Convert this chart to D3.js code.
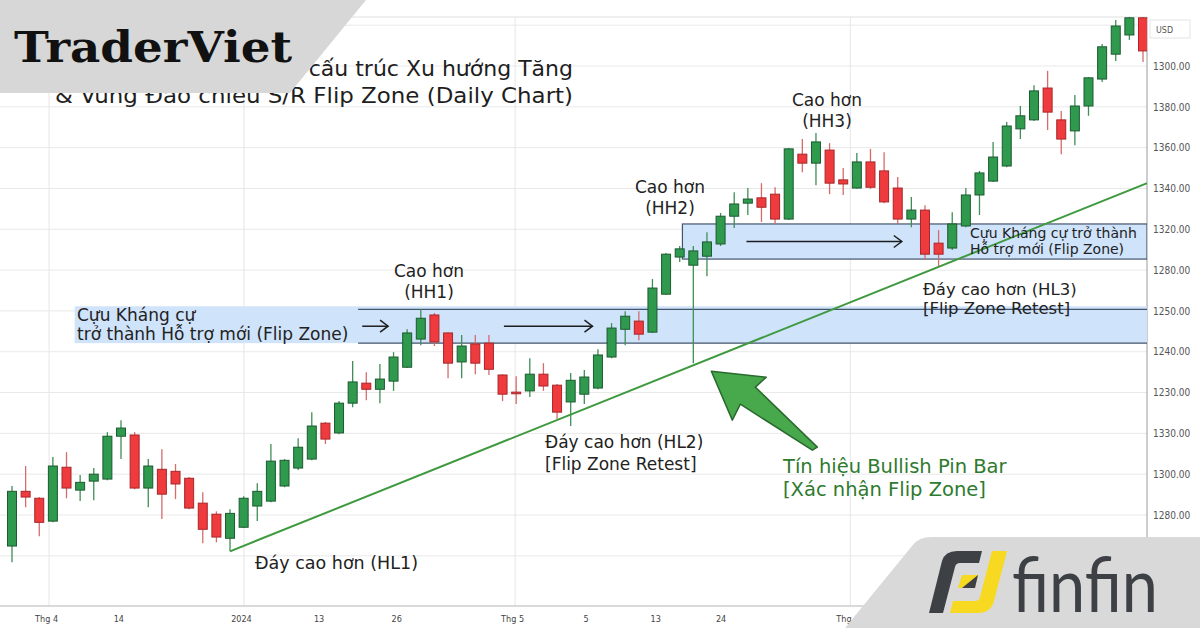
<!DOCTYPE html>
<html>
<head>
<meta charset="utf-8">
<script src="https://cdn.jsdelivr.net/npm/d3@7"></script>
<style>
  body { margin: 0; background: #fff; }
  svg { display: block; }
</style>
</head>
<body>
<svg id="chart" width="1200" height="628"></svg>
<script>
// ---- daily candles ----
const opens = [1282.4,1295.8,1294.1,1288.5,1301.7,1296.1,1298.3,1298.8,1309.3,1309.6,
  1296.6,1301.2,1300.7,1299.0,1292.9,1290.2,1284.3,1287.0,1292.2,1293.4,
  1297.1,1301.5,1303.7,1312.5,1310.1,1317.4,1322.3,1320.8,1322.8,1326.2,
  1333.1,1339.0,1334.6,1327.5,1331.9,1332.1,1324.3,1320.1,1320.4,1324.5,
  1321.8,1317.7,1319.6,1321.1,1328.7,1335.5,1337.5,1334.8,1344.1,1353.2,
  1351.2,1353.4,1356.4,1363.2,1366.4,1367.7,1368.6,1362.5,1378.4,1376.2,
  1379.4,1372.1,1370.1,1376.5,1374.3,1370.1,1362.5,1364.7,1356.6,1355.4,
  1360.8,1368.4,1371.8,1375.5,1384.6,1386.8,1394.6,1386.8,1384.1,1390.2,
  1396.8,1402.9,1407.6,1411.8];
const highs = [1297.1,1302.0,1294.4,1304.2,1305.4,1299.8,1301.5,1310.3,1313.2,1310.3,
  1303.7,1306.1,1302.5,1299.3,1295.6,1290.9,1291.4,1294.6,1297.8,1307.4,
  1303.7,1308.8,1315.2,1312.8,1317.9,1327.7,1325.0,1327.0,1329.9,1335.5,
  1340.4,1339.5,1334.8,1334.1,1334.1,1334.1,1324.5,1324.0,1328.4,1327.2,
  1322.1,1324.8,1325.5,1330.6,1337.0,1339.9,1339.9,1347.8,1354.2,1355.9,
  1355.9,1359.3,1364.0,1369.1,1370.1,1371.3,1370.3,1379.9,1382.1,1383.6,
  1381.1,1375.0,1378.7,1379.7,1378.9,1372.8,1367.9,1365.9,1359.8,1364.2,
  1370.1,1374.3,1381.4,1386.3,1390.2,1395.3,1398.8,1389.0,1392.9,1397.3,
  1405.4,1411.3,1412.8,1412.5];
const lows = [1278.4,1291.9,1284.8,1288.2,1294.1,1293.4,1293.6,1298.5,1303.7,1296.3,
  1291.9,1289.0,1293.9,1291.4,1283.1,1283.3,1281.1,1286.8,1288.5,1293.1,
  1296.8,1301.0,1303.4,1307.4,1309.8,1316.4,1318.1,1317.4,1320.4,1326.0,
  1331.6,1331.4,1323.5,1323.5,1324.5,1324.3,1317.9,1317.2,1318.9,1320.4,
  1313.5,1311.8,1317.2,1320.8,1328.4,1331.6,1332.8,1334.6,1343.9,1352.0,
  1327.2,1348.5,1355.9,1360.3,1363.5,1361.8,1361.3,1362.3,1374.0,1370.8,
  1368.6,1368.4,1369.9,1369.9,1366.4,1361.3,1360.5,1352.5,1351.0,1354.9,
  1360.5,1363.5,1371.6,1375.2,1382.1,1386.5,1384.3,1378.4,1380.6,1387.8,
  1396.1,1401.2,1406.4,1401.0];
const closes = [1295.8,1294.4,1288.2,1302.0,1296.6,1298.0,1300.0,1309.3,1311.3,1296.6,
  1302.0,1295.1,1297.6,1291.7,1286.5,1284.6,1290.4,1294.1,1295.8,1303.2,
  1303.4,1306.6,1311.8,1308.6,1317.4,1322.6,1320.8,1323.3,1328.7,1334.6,
  1338.2,1332.4,1327.2,1331.4,1327.2,1325.7,1319.6,1319.7,1324.5,1321.6,
  1315.2,1323.0,1323.8,1329.2,1335.8,1338.7,1334.3,1345.6,1353.9,1355.2,
  1354.7,1356.9,1363.2,1366.2,1367.4,1365.4,1362.5,1379.7,1376.2,1381.4,
  1371.3,1371.1,1376.5,1370.3,1366.7,1362.5,1364.7,1353.9,1353.9,1361.3,
  1368.4,1373.8,1377.7,1385.3,1387.8,1393.9,1388.7,1382.1,1390.2,1397.1,
  1404.7,1409.8,1411.8,1403.7];

// axis labels (as printed on the picture)
const yTickValues = [1400,1390,1380,1370,1360,1350,1340,1330,1320,1310,1300,1290];
const yTickLabels = ["1300.00","1380.00","1360.00","1340.00","1320.00","1280.00",
  "1250.00","1240.00","1230.00","1330.00","1300.00","1280.00"];
const xTickPositions = [2.5, 7.8, 16.8, 22.5, 28.2, 36.7, 42.1, 47.2, 52.0, 61.3];
const xTickLabels = ["Thg 4","14","2024","13","26","Thg 5","5","13","24","Thg 6"];
const xMajor = ["Thg 4","2024","Thg 5","Thg 6"];

// flip zones (price band + first candle index)
const zoneLow = [1332.1, 1352.7];
const zoneHigh = [1340.4, 1361.3];
const zoneStart = [25.4, 49.2];

// rising trendline (index, price)
const trendIdx = [16, 83.3];
const trendVal = [1281.1, 1371.3];

// horizontal arrows: [fromIdx, toIdx, price]
const arrowFrom = [25.7, 36.1, 53.9];
const arrowTo = [27.6, 42.6, 65.3];
const arrowPrice = [1336.25, 1336.25, 1357.0];

const candles = opens.map((o, i) => ({ i, o, h: highs[i], l: lows[i], c: closes[i] }));

const svg = d3.select("#chart");
const plotRight = 1147, plotTop = 17, plotBottom = 606;
const font = "'DejaVu Sans', Verdana, sans-serif";

const x = d3.scaleLinear().domain([0, candles.length - 1]).range([12, 1143]);
const y = d3.scaleLinear().domain([1290, 1400]).range([515, 66]);

svg.append("rect").attr("width", 1200).attr("height", 628).attr("fill", "#fff");

svg.append("defs").append("clipPath").attr("id", "plotClip")
  .append("rect").attr("x", 0).attr("y", plotTop)
  .attr("width", plotRight).attr("height", plotBottom - plotTop);

// grid
const grid = svg.append("g");
grid.selectAll("line.h").data(d3.range(1280, 1411, 10)).enter().append("line")
  .attr("x1", 0).attr("x2", plotRight)
  .attr("y1", d => y(d)).attr("y2", d => y(d))
  .attr("stroke", "#e9e9e9").attr("stroke-width", 1);
grid.selectAll("line.v").data(xTickPositions.filter((d, i) => xMajor.includes(xTickLabels[i])))
  .enter().append("line")
  .attr("x1", d => x(d) + 3).attr("x2", d => x(d) + 3)
  .attr("y1", plotTop).attr("y2", plotBottom)
  .attr("stroke", "#e6e6e6").attr("stroke-width", 1);

// frame
svg.append("line").attr("x1", 0).attr("x2", plotRight).attr("y1", plotTop).attr("y2", plotTop)
  .attr("stroke", "#e0e0e0");
svg.append("line").attr("x1", plotRight).attr("x2", plotRight).attr("y1", plotTop).attr("y2", plotBottom)
  .attr("stroke", "#9a9a9a");
svg.append("line").attr("x1", 0).attr("x2", plotRight).attr("y1", plotBottom).attr("y2", plotBottom)
  .attr("stroke", "#b5b5b5");

// flip zones
const zones = svg.append("g").attr("clip-path", "url(#plotClip)");
zones.append("rect")
  .attr("x", x(4.6)).attr("y", y(zoneHigh[0]) - 3)
  .attr("width", plotRight - x(4.6)).attr("height", y(zoneLow[0]) - y(zoneHigh[0]) + 3)
  .attr("fill", "#cfe3fb");
zoneLow.forEach((lo, k) => {
  const x0 = x(zoneStart[k]);
  if (k === 1) {
    zones.append("rect").attr("x", x0).attr("y", y(zoneHigh[k]))
      .attr("width", plotRight - x0).attr("height", y(lo) - y(zoneHigh[k]))
      .attr("fill", "#cfe3fb").attr("stroke", "#44546a").attr("stroke-width", 1.2);
  } else {
    [zoneHigh[k], lo].forEach(v => zones.append("line")
      .attr("x1", x0).attr("x2", plotRight).attr("y1", y(v)).attr("y2", y(v))
      .attr("stroke", "#44546a").attr("stroke-width", 1.2));
  }
});

// candles
const cg = svg.append("g").attr("clip-path", "url(#plotClip)");
const up = d => d.c >= d.o;
cg.selectAll("line.wick").data(candles).enter().append("line")
  .attr("x1", d => x(d.i)).attr("x2", d => x(d.i))
  .attr("y1", d => y(d.h)).attr("y2", d => y(d.l))
  .attr("stroke", d => up(d) ? "#3f8e57" : "#d56b6b").attr("stroke-width", 1.3);
const bodyW = 9;
cg.selectAll("rect.body").data(candles).enter().append("rect")
  .attr("x", d => x(d.i) - bodyW / 2)
  .attr("y", d => y(Math.max(d.o, d.c)))
  .attr("width", bodyW)
  .attr("height", d => Math.max(1.5, Math.abs(y(d.o) - y(d.c))))
  .attr("fill", d => up(d) ? "#2f9a4e" : "#ef3b3d")
  .attr("stroke", d => up(d) ? "#1c5a30" : "#a8262a").attr("stroke-width", 1);

// trendline
svg.append("line").attr("clip-path", "url(#plotClip)")
  .attr("x1", x(trendIdx[0])).attr("y1", y(trendVal[0]))
  .attr("x2", x(trendIdx[1])).attr("y2", y(trendVal[1]))
  .attr("stroke", "#3f9a3f").attr("stroke-width", 2);

// black arrows
const ag = svg.append("g").attr("stroke", "#1e1e1e").attr("stroke-width", 1.5).attr("fill", "none");
arrowFrom.forEach((f, k) => {
  const x1 = x(f), x2 = x(arrowTo[k]), yy = y(arrowPrice[k]);
  ag.append("line").attr("x1", x1).attr("x2", x2).attr("y1", yy).attr("y2", yy);
  ag.append("path").attr("d", `M${x2 - 8},${yy - 6} L${x2},${yy} L${x2 - 8},${yy + 6}`);
});

// big green arrow pointing at the pin bar low
const tipX = x(50) + 18, tipY = y(lows[50]) + 8;
const arrowShape = [[0,0],[55,6],[44,16],[106,76],[101,79],[29,33],[21,49]];
svg.append("path")
  .attr("d", "M" + arrowShape.map(p => [tipX + p[0], tipY + p[1]].join(",")).join(" L") + " Z")
  .attr("fill", "#48a84c").attr("stroke", "#2b6a2e").attr("stroke-width", 1.5)
  .attr("stroke-linejoin", "round");

// y axis (right)
const yAxis = d3.axisRight(y).tickValues(yTickValues)
  .tickFormat((d, i) => yTickLabels[i]).tickSize(0).tickPadding(0);
svg.append("g").attr("transform", `translate(${plotRight + 6},0)`).call(yAxis)
  .call(g => g.select(".domain").remove())
  .call(g => g.selectAll("text").attr("fill", "#555").attr("font-size", 10)
    .attr("font-family", "'DejaVu Sans Condensed', 'DejaVu Sans', sans-serif"));
svg.append("rect").attr("x", 1150).attr("y", 20).attr("width", 40).attr("height", 18)
  .attr("fill", "#fff").attr("stroke", "#e3e3e3");
svg.append("text").attr("x", 1156).attr("y", 33).text("USD")
  .attr("font-size", 8).attr("fill", "#555").attr("font-family", "'DejaVu Sans', sans-serif");

// x axis
const xAxis = d3.axisBottom(x).tickValues(xTickPositions)
  .tickFormat((d, i) => xTickLabels[i]).tickSize(0).tickPadding(10);
svg.append("g").attr("transform", `translate(0,${plotBottom})`).call(xAxis)
  .call(g => g.select(".domain").remove())
  .call(g => g.selectAll("text").attr("fill", "#444").attr("font-size", 9)
    .attr("font-family", "'DejaVu Sans Condensed', 'DejaVu Sans', sans-serif"));

// annotations
const ann = svg.append("g").attr("font-family", font).attr("fill", "#222");
function label(lines, px, py, size, anchor, color, gap) {
  const t = ann.append("text").attr("x", px).attr("y", py).attr("font-size", size)
    .attr("text-anchor", anchor || "start").attr("fill", color || "#222");
  lines.forEach((s, k) => t.append("tspan").attr("x", px).attr("dy", k ? gap : 0).text(s));
}
// chart title (partly covered by the badge, as in the picture)
ann.append("text").attr("x", 573).attr("y", 76).attr("text-anchor", "end")
  .attr("font-size", 22).attr("fill", "#1e1e1e")
  .text("Minh họa Mô hình cấu trúc Xu hướng Tăng");
ann.append("text").attr("x", 55).attr("y", 103)
  .attr("font-size", 22).attr("fill", "#1e1e1e")
  .attr("textLength", 518).attr("lengthAdjust", "spacingAndGlyphs")
  .text("& Vùng Đảo chiều S/R Flip Zone (Daily Chart)");
label(["Cao hơn", "(HH1)"], 429, 277, 17, "middle", "#222", 21);
label(["Cao hơn", "(HH2)"], 670, 193, 17, "middle", "#222", 21);
label(["Cao hơn", "(HH3)"], 827, 106, 17, "middle", "#222", 21);
label(["Cựu Kháng cự", "trở thành Hỗ trợ mới (Flip Zone)"], 77, 321, 17, "start", "#222", 19);
label(["Đáy cao hơn (HL1)"], 255, 569, 17.5, "start", "#222", 0);
label(["Đáy cao hơn (HL2)", "[Flip Zone Retest]"], 545, 448, 17, "start", "#222", 22);
label(["Cựu Kháng cự trở thành", "Hỗ trợ mới (Flip Zone)"], 970, 238, 14, "start", "#222", 16);
label(["Đáy cao hơn (HL3)", "[Flip Zone Retest]"], 923, 295, 16.5, "start", "#222", 19);
label(["Tín hiệu Bullish Pin Bar", "[Xác nhận Flip Zone]"], 783, 473, 19.5, "start", "#2e7a2e", 23);

// TraderViet badge
svg.append("path").attr("d", "M0,0 L366,0 L290,93 L0,93 Z").attr("fill", "#d7d7d7");
svg.append("text").attr("x", 14).attr("y", 62).text("TraderViet")
  .attr("font-family", "'DejaVu Serif', serif").attr("font-weight", "bold")
  .attr("font-size", 42).attr("fill", "#111")
  .attr("textLength", 278).attr("lengthAdjust", "spacingAndGlyphs");

// finfin badge
svg.append("path").attr("d", "M845,628 L912,546 Q918,537 932,537 L1200,537 L1200,628 Z")
  .attr("fill", "#d9d9d9");
svg.append("path")
  .attr("d", "M929,613 L942,561 Q945,551 957,551 L982,551 L979,563 L960,563 Q956,563 955,567 L943,613 Z")
  .attr("fill", "#3d4145");
svg.append("path")
  .attr("d", "M992,551 L1007,551 L994,601 Q991,613 978,613 L950,613 L953,601 L975,601 Q979,601 980,597 Z")
  .attr("fill", "#f6d920");
svg.append("path").attr("d", "M958,588 L962,575 L978,575 L975,588 Z").attr("fill", "#f6d920");
svg.append("path").attr("d", "M962,588 L978,575 L975,588 Z").attr("fill", "#3d4145");
svg.append("text").attr("x", 1012).attr("y", 612).text("finfin")
  .attr("font-family", "Lato, 'Open Sans', sans-serif").attr("font-size", 76)
  .attr("fill", "#3d4145").attr("textLength", 146).attr("lengthAdjust", "spacingAndGlyphs");
</script>
</body>
</html>
